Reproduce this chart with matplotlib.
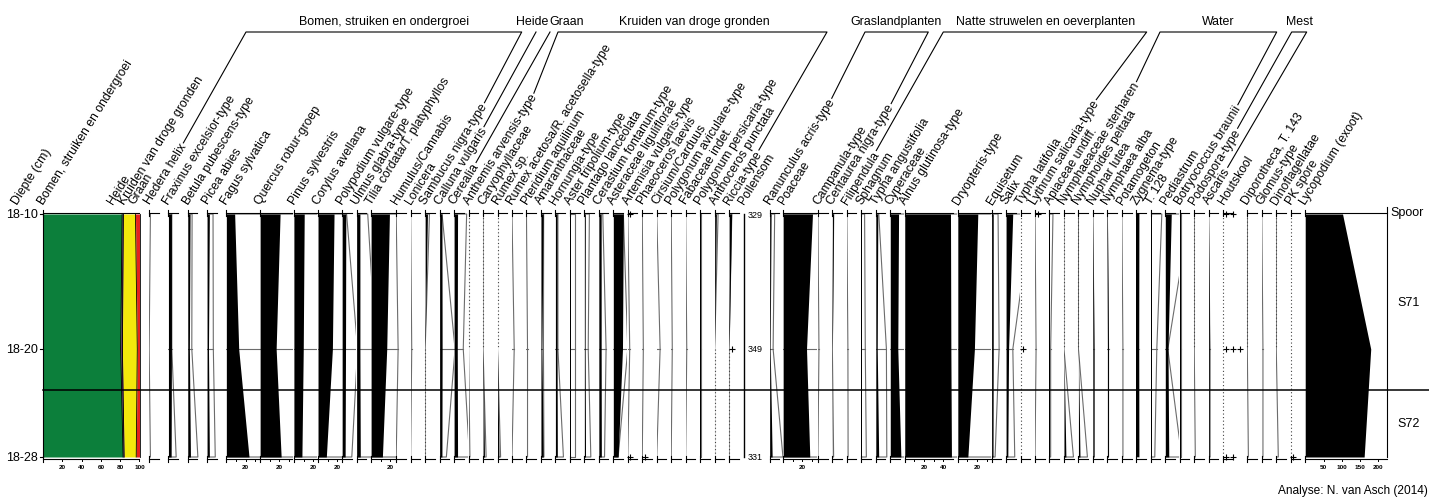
import numpy as np
import matplotlib
matplotlib.use('Agg')
import matplotlib.pyplot as plt
from matplotlib.patches import Rectangle

plt.rcParams['font.family'] = ['Liberation Sans', 'DejaVu Sans']

# ------------------------- monsters en zones -------------------------
depths = [10, 20, 28]
depth_labels = ['18-10', '18-20', '18-28']
zone_bounds = [10, 23, 28]
zone_names = ['S71', 'S72']

# ------------------------- hoofdsom (%) -------------------------
sum_names = ['Bomen, struiken en ondergroei', 'Heide', 'Kruiden van droge gronden', 'Graan']
sum_bomen = [82.0, 80.5, 83.0]
sum_heide = [1.3, 1.8, 1.1]
sum_kruiden = [12.5, 15.4, 12.5]
sum_graan = [4.2, 2.3, 3.4]
sum_colors = ['#0c7f3b', '#5a1b5e', '#f3e80c', '#e5211d']

# ------------------------- taxa -------------------------
taxa = [
    'Hedera helix', 'Fraxinus excelsior-type', 'Betula pubescens-type', 'Picea abies',
    'Fagus sylvatica', 'Quercus robur-groep', 'Pinus sylvestris', 'Corylus avellana',
    'Polypodium vulgare-type', 'Ulmus glabra-type', 'Tilia cordata/T. platyphyllos',
    'Humulus/Cannabis', 'Lonicera', 'Sambucus nigra-type',
    'Calluna vulgaris', 'Cerealia',
    'Anthemis arvensis-type', 'Caryophyllaceae', 'Rumex sp.', 'Rumex acetosa/R. acetosella-type',
    'Pteridium aquilinum', 'Amaranthaceae', 'Hornungia-type', 'Aster tripolium-type',
    'Plantago lanceolata', 'Cerastium fontanum-type', 'Asteraceae liguliflorae',
    'Artemisia vulgaris-type', 'Phaeoceros laevis', 'Cirsium/Carduus',
    'Polygonum aviculare-type', 'Fabaceae indet.', 'Polygonum persicaria-type',
    'Anthoceros punctata', 'Riccia-type',
    'Ranunculus acris-type', 'Poaceae', 'Campanula-type', 'Centaurea nigra-type',
    'Filipendula', 'Sphagnum', 'Typha angustifolia', 'Cyperaceae', 'Alnus glutinosa-type',
    'Dryopteris-type', 'Equisetum', 'Salix', 'Typha latifolia', 'Lythrum salicaria-type',
    'Apiaceae undiff.', 'Nymphaeaceae sterharen', 'Nymphoides peltata', 'Nuphar lutea',
    'Nymphaea alba', 'Potamogeton', 'Zygnema-type', 'T. 128', 'Pediastrum',
    'Botryococcus braunii', 'Podospora-type', 'Ascaris', 'Houtskool',
    'Diporotheca, T. 143', 'Glomus-type', 'Dinoflagellatae', 'PK spore',
]

# percentages (zwart silhouet) per monster
pct = [
    [0, 0, 0], [3.1, 3.1, 2.8], [2.4, 1.7, 2.8], [2.4, 1.5, 2.4],
    [8.6, 12.8, 23.5], [20.7, 16.6, 21.8], [10.7, 9.7, 8.3], [16.6, 14.9, 8.6],
    [3.8, 3.5, 3.1], [3.4, 3.4, 3.8], [19.0, 16.2, 11.7],
    [0, 0, 0], [0, 0, 0], [2.4, 0, 0],
    [2.4, 2.6, 2.4], [3.6, 3.3, 3.6],
    [0, 0, 0], [0, 0, 1.5], [0, 0, 1.5], [0, 0, 0],
    [0, 0, 0], [2.4, 1.0, 2.4], [1.7, 1.7, 2.0], [1.0, 1.0, 1.0],
    [1.0, 0.8, 1.2], [2.4, 2.4, 2.6], [10.4, 9.5, 5.0],
    [0, 0, 0], [0, 0, 0], [0, 0, 0],
    [0, 0, 0], [0, 0, 0], [1.0, 1.0, 1.0],
    [1.8, 0, 0], [2.6, 0, 0],
    [1.5, 0.6, 2.6], [30.4, 24.2, 27.6], [0, 0, 0], [1.2, 0, 0.2],
    [0, 0, 0], [1.0, 1.0, 1.0], [2.1, 1.5, 3.0], [8.6, 7.8, 11.0], [47.4, 47.8, 48.4],
    [20.7, 17.2, 10.4], [1.7, 1.7, 1.5], [6.9, 2.6, 1.8], [0, 0, 0], [0, 0, 0],
    [1.0, 1.0, 1.0], [0, 0, 2.0], [0, 0, 1.6], [0, 1.1, 1.1],
    [0, 1.1, 1.1], [0, 0, 0], [2.4, 2.4, 2.4], [1.7, 1.7, 1.7], [6.2, 2.8, 3.6],
    [1.4, 1.4, 1.4], [0, 0, 0], [0, 1.0, 1.0], [0, 0, 0],
    [0, 0, 0], [0, 0, 0], [0, 0, 0], [0, 0, 0],
]

# overdreven curve (grijze omlijning)
exg = [
    [1.3, 0, 1.3], [3.5, 3.5, 8.0], [4.5, 4.2, 10.5], [6.2, 6.5, 8.5],
    [86, 128, 235], [207, 166, 218], [107, 97, 83], [166, 149, 86],
    [4.6, 16, 10], [11.5, 20, 20], [190, 162, 117],
    [0, 2.0, 0], [0, 1.1, 0], [4.5, 0, 0],
    [2.5, 16, 7.0], [13, 9.5, 16],
    [0, 0, 1.4], [0, 0, 3.2], [0, 0, 3.2], [0, 2.3, 0],
    [0, 1.1, 1.1], [2.8, 2.6, 3.1], [2.6, 2.6, 8.3], [5.2, 5.2, 5.2],
    [5.2, 4.0, 6.7], [4.1, 7.5, 5.9], [10.4, 15, 5.0],
    [0, 2.0, 0], [0, 1.1, 0], [0, 3.5, 0],
    [0, 1.1, 0], [0, 1.1, 0], [1.1, 1.1, 1.1],
    [3.6, 0, 0], [2.8, 0, 0],
    [5.2, 3.6, 13.8], [304, 242, 276], [0, 1.1, 0], [1.4, 0, 1.3],
    [0, 1.1, 1.3], [3.4, 4.1, 5.2], [3.1, 11.0, 11.4], [86, 78, 110], [474, 478, 484],
    [207, 172, 104], [6.7, 7.8, 3.6], [26, 7.0, 9.0], [0, 0, 0], [0, 1.1, 0],
    [3.6, 1.2, 1.2], [0, 0, 9.8], [0, 0, 9.3], [0, 1.2, 1.2],
    [0, 1.2, 1.2], [0, 1.1, 1.1], [2.9, 2.6, 2.9], [11.4, 6.2, 4.1], [25, 2.6, 17],
    [1.4, 1.4, 1.4], [0, 0, 1.1], [0, 1.2, 1.2], [0, 0, 0],
    [0, 0, 1.1], [0, 1.2, 1.2], [0, 0, 2.1], [0, 0, 0],
]

# aanwezig (+) per monster
plus = {
    'Artemisia vulgaris-type': [1, 0, 1],
    'Phaeoceros laevis': [0, 0, 1],
    'Riccia-type': [0, 1, 0],
    'Typha latifolia': [0, 1, 0],
    'Lythrum salicaria-type': [1, 0, 0],
    'Houtskool': [2, 3, 2],
    'PK spore': [0, 0, 1],
}

pollensom = [329, 349, 331]
lycopodium = [102, 179, 161]

groups = [
    ('Bomen, struiken en ondergroei', 'Hedera helix', 'Sambucus nigra-type'),
    ('Heide', 'Calluna vulgaris', 'Calluna vulgaris'),
    ('Graan', 'Cerealia', 'Cerealia'),
    ('Kruiden van droge gronden', 'Anthemis arvensis-type', 'Riccia-type'),
    ('Graslandplanten', 'Ranunculus acris-type', 'Centaurea nigra-type'),
    ('Natte struwelen en oeverplanten', 'Filipendula', 'Lythrum salicaria-type'),
    ('Water', 'Nymphaeaceae sterharen', 'Botryococcus braunii'),
    ('Mest', 'Podospora-type', 'Ascaris'),
]

# ------------------------- opmaak -------------------------
W, H = 1429, 502
X0, Y_TOP, Y_BOT = 43, 215, 458
UNIT = 0.965            # pixels per procent
LYC_PX = 0.366          # pixels per Lycopodium-telling
ROT = 58
FS = 8.8

SUM_SPAN = 110
span = {'Hedera helix': 20, 'Fraxinus excelsior-type': 20, 'Betula pubescens-type': 20,
        'Picea abies': 20, 'Fagus sylvatica': 35, 'Quercus robur-groep': 35,
        'Pinus sylvestris': 25, 'Corylus avellana': 25, 'Tilia cordata/T. platyphyllos': 26,
        'Pollensom': 27, 'Ranunculus acris-type': 14, 'Poaceae': 36,
        'Alnus glutinosa-type': 55, 'Dryopteris-type': 35, 'Houtskool': 25}
axis_len = {'Fagus sylvatica': 34, 'Quercus robur-groep': 33, 'Pinus sylvestris': 24,
            'Corylus avellana': 24, 'Tilia cordata/T. platyphyllos': 25, 'Poaceae': 35,
            'Alnus glutinosa-type': 50, 'Dryopteris-type': 34}
sum_label_x = [43, 113, 124, 134]
header_span = [(246, 521.7), (536, 536), (550, 550), (558, 827), (865, 928.3),
               (943.3, 1146.7), (1160, 1276.7), (1291.7, 1306.7)]
header_text_x = [384, 532, 567, 694, 896.5, 1046, 1218, 1299]

GREY = '#6c6c6c'


def px(u):
    return X0 + u * UNIT


def py(d):
    return Y_TOP + (d - depths[0]) * (Y_BOT - Y_TOP) / (depths[-1] - depths[0])


# kolomvolgorde met posities
split = taxa.index('Riccia-type') + 1
columns = taxa[:split] + ['Pollensom'] + taxa[split:] + ['Lycopodium (exoot)']
offset = {}
cur = SUM_SPAN
for name in columns:
    offset[name] = cur
    cur += span.get(name, 15)

fig = plt.figure(figsize=(W / 100, H / 100), dpi=100)
ax = fig.add_axes([X0 / W, 1 - Y_BOT / H, (W - X0) / W, (Y_BOT - Y_TOP) / H])
ax.set_xlim(0, (W - X0) / UNIT)
ax.set_ylim(depths[-1], depths[0])
ax.axis('off')
ov = fig.add_axes([0, 0, 1, 1])
ov.set_xlim(0, W)
ov.set_ylim(H, 0)
ov.axis('off')
ov.patch.set_alpha(0)


def column_axis(x1, x2, ticks=(), labels=()):
    for y in (213.5, 459.5):
        ov.plot([x1, x2], [y, y], color='k', lw=0.8)
        ov.plot([x1, x1], [y - 3, y + 3], color='k', lw=0.8)
    for t in ticks:
        ov.plot([t, t], [459.5, 462], color='k', lw=0.7)
    for t, s in labels:
        ov.text(t, 467.5, s, ha='center', va='center', fontsize=4.6, fontweight='bold')


# ------------------------- hoofdsom -------------------------
left = np.zeros(3)
for vals, c in zip([sum_bomen, sum_heide, sum_kruiden, sum_graan], sum_colors):
    right = left + np.array(vals)
    ax.fill_betweenx(depths, left, right, color=c, lw=0, clip_on=False)
    ax.plot(right, depths, color='k', lw=0.6, clip_on=False)
    left = right
column_axis(px(0), px(100), ticks=[px(t) for t in range(0, 101, 20)],
            labels=[(px(t), str(t)) for t in range(20, 101, 20)])

# ------------------------- taxa -------------------------
for name, p, e in zip(taxa, pct, exg):
    o = offset[name]
    s = span.get(name, 15)
    p = np.array(p, dtype=float)
    e = np.array(e, dtype=float)
    if p.max() > 0:
        ax.fill_betweenx(depths, o, o + p, color='k', lw=0, clip_on=False, zorder=3)
    if e.max() > 0:
        clip = Rectangle((o, depths[0] - 0.5), s - 0.6, depths[-1] - depths[0] + 1,
                         transform=ax.transData)
        xs = [o] + list(o + e) + [o]
        ys = [depths[0]] + depths + [depths[-1]]
        ln, = ax.plot(xs, ys, color=GREY, lw=0.8, zorder=2)
        ln.set_clip_path(clip)
        hl, = ax.plot([o, o + e[1]], [depths[1], depths[1]], color=GREY, lw=0.8, zorder=2)
        hl.set_clip_path(clip)
    for k in range(len(depths) - 1):
        if e[k] == 0 and e[k + 1] == 0:
            ax.plot([o, o], [depths[k], depths[k + 1]], color='#444444', lw=0.8,
                    ls=(0, (1, 2.2)), clip_on=False, zorder=2)
    for k, n in enumerate(plus.get(name, [0, 0, 0])):
        for j in range(n):
            ax.plot(o + 2.6 + 7.5 * j, depths[k], marker='+', ms=4.2, mew=0.8,
                    color='k', ls='none', clip_on=False, zorder=4)
    ln_len = axis_len.get(name, 10)
    ticks, labels = [], []
    if name in axis_len:
        ticks = [px(o + t) for t in range(10, ln_len, 10)]
        labels = [(px(o + t), str(t)) for t in range(20, ln_len, 20)]
    column_axis(px(o), px(o + ln_len), ticks, labels)

# pollensom
o = offset['Pollensom']
ax.plot([o, o], [depths[0], depths[-1]], color='k', lw=1.0, clip_on=False)
for d, v in zip(depths, pollensom):
    ax.text(o + 3.8, d, str(v), ha='left', va='center', fontsize=6.5)

# Lycopodium (tellingen)
o = offset['Lycopodium (exoot)']
lyc_u = LYC_PX / UNIT
ax.fill_betweenx(depths, o, o + np.array(lycopodium) * lyc_u, color='k', lw=0, clip_on=False)
lyc_end = px(o) + 224 * LYC_PX
column_axis(px(o), lyc_end, ticks=[px(o) + t * LYC_PX for t in range(50, 201, 50)],
            labels=[(px(o) + t * LYC_PX, str(t)) for t in range(50, 201, 50)])

# ------------------------- zones en diepte-as -------------------------
ax.plot([0, (W - X0) / UNIT], [zone_bounds[1]] * 2, color='k', lw=1.1, clip_on=False, zorder=5)
ov.plot([lyc_end, lyc_end], [208, py(depths[-1])], color='k', lw=0.8)
ov.text(lyc_end + 3, 213, 'Spoor', ha='left', va='center', fontsize=9)
for zn, a, b in zip(zone_names, zone_bounds[:-1], zone_bounds[1:]):
    ov.text(lyc_end + 21, py((a + b) / 2), zn, ha='center', va='center', fontsize=9)

ov.plot([X0, X0], [py(depths[0]), py(depths[-1])], color='k', lw=0.8)
for d, lab in zip(depths, depth_labels):
    ov.plot([X0 - 3, X0], [py(d), py(d)], color='k', lw=0.8)
    ov.text(X0 - 5, py(d), lab, ha='right', va='center', fontsize=9)

# ------------------------- kolomtitels -------------------------
label_art = {}


def rot_label(x, s):
    t = ov.text(x, 205.5, s, rotation=ROT, rotation_mode='anchor',
                ha='left', va='baseline', fontsize=FS)
    label_art[s] = t


rot_label(17, 'Diepte (cm)')
for x, s in zip(sum_label_x, sum_names):
    ov.text(x, 205.5, s, rotation=ROT, rotation_mode='anchor',
            ha='left', va='baseline', fontsize=FS)
for name in columns:
    rot_label(px(offset[name]) + 0.5, name)

ov.text(W - 1, 491, 'Analyse: N. van Asch (2014)', ha='right', va='center', fontsize=8.6)

fig.canvas.draw()
renderer = fig.canvas.get_renderer()
a = np.radians(ROT)


def label_end(name):
    t = label_art[name]
    w, h, dsc = renderer.get_text_width_height_descent(t.get_text(), t.get_fontproperties(),
                                                       ismath=False)
    x, y = t.get_position()
    cap = 0.45 * (h - dsc)
    return (x + (w + 1) * np.cos(a) - cap * np.sin(a),
            y - (w + 1) * np.sin(a) - cap * np.cos(a))


for (title, first, last), (hx1, hx2), tx in zip(groups, header_span, header_text_x):
    ov.text(tx, 22, title, ha='center', va='center', fontsize=8.9)
    e1 = label_end(first)
    if first == last:
        ov.plot([e1[0], hx1], [e1[1], 33], color='k', lw=0.8)
    else:
        e2 = label_end(last)
        ov.plot([e1[0], hx1, hx2, e2[0]], [e1[1], 33, 33, e2[1]], color='k', lw=0.8)

fig.savefig('out.png', dpi=100)
